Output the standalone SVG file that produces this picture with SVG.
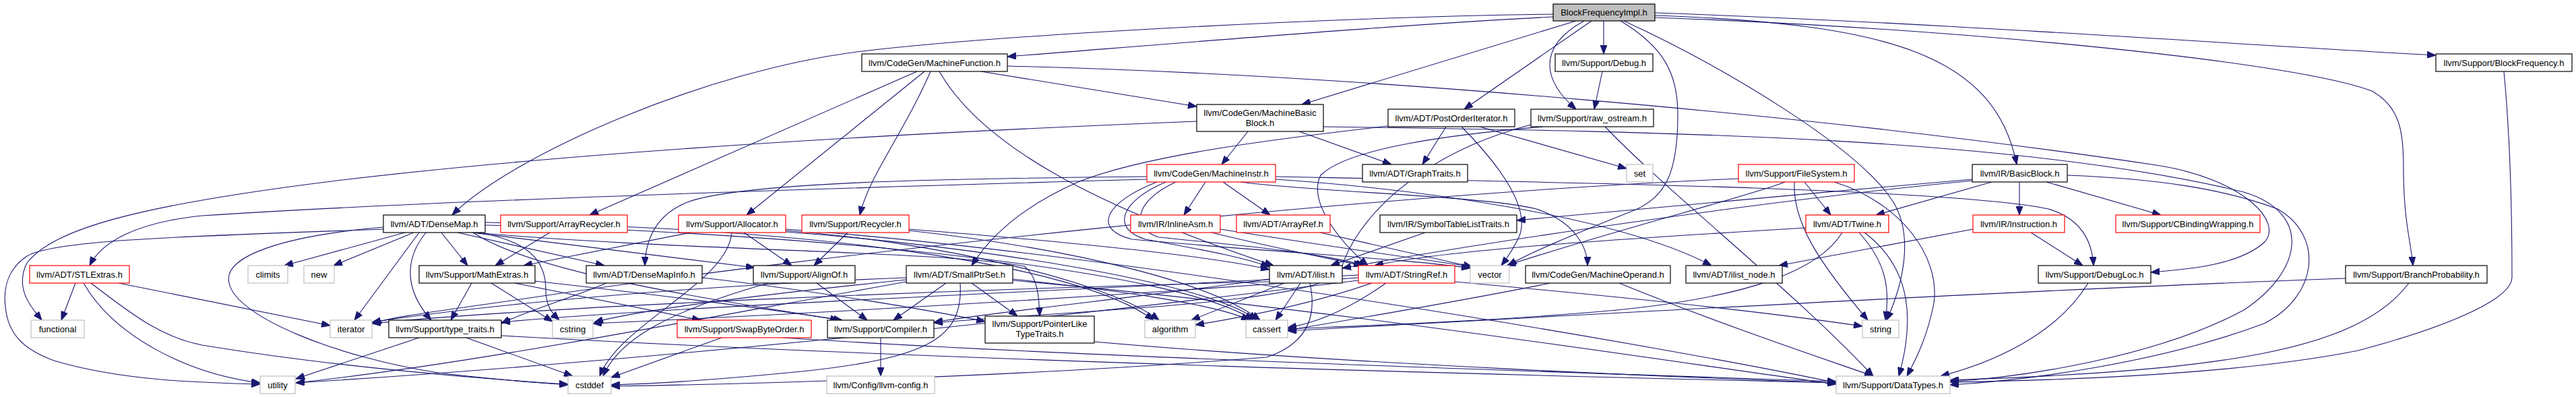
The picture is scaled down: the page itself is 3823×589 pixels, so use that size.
<svg xmlns="http://www.w3.org/2000/svg" width="3823" height="589" viewBox="0 0 3823 589">
<defs>
<marker id="a" markerUnits="userSpaceOnUse" markerWidth="13" markerHeight="10" refX="13" refY="5" orient="auto"><path d="M0,0 L13,5 L0,10 Z" fill="#191970" stroke="#191970" stroke-width="1"/></marker>
</defs>
<style>
.e path{fill:none;stroke:#191970;stroke-width:1.1;marker-end:url(#a)}
.n rect{fill:#fff;stroke:#000;stroke-width:1.2}
.r rect{fill:#fff;stroke:#ff0000;stroke-width:1.2}
.g rect{fill:#fff;stroke:#bfbfbf;stroke-width:1.2}
.root rect{fill:#bfbfbf;stroke:#000;stroke-width:1.2}
text{font-family:"Liberation Sans",Arial,Helvetica,sans-serif;font-size:13px;text-anchor:middle;fill:#000}
</style>
<rect width="3823" height="589" fill="#fff"/>
<g id="connectors" class="e">
<path d="M2305,21 C2000,25 1500,50 1280,76 C1050,103 760,230 671,319"/>
<path d="M2305,25 C2100,35 1800,60 1495,84"/>
<path d="M2339,31 L1932,155"/>
<path d="M2362,31 L2173,162"/>
<path d="M2380,31 L2380,80"/>
<path d="M2351,31 C2280,70 2290,120 2339,162"/>
<path d="M2456,23 C2800,35 2960,80 2993,244"/>
<path d="M2456,19 C2900,35 3300,65 3615,82"/>
<path d="M2456,26 C2900,42 3400,90 3520,135 C3565,160 3567,200 3567,260 C3568,330 3578,360 3581,394"/>
<path d="M2405,31 C2470,70 2490,110 2490,170 C2490,260 2470,290 2430,310 C2330,350 2270,375 2238,394"/>
<path d="M2410,31 C2560,100 2760,220 2810,300 C2840,350 2825,420 2800,475"/>
<path d="M1456,106 L1776,158"/>
<path d="M1495,98 C2000,110 2700,170 3200,245 C3330,265 3390,330 3360,360 C3320,395 3240,400 3192,404"/>
<path d="M1361,106 L875,319"/>
<path d="M1372,106 L1108,319"/>
<path d="M1381,106 C1340,200 1290,260 1276,319"/>
<path d="M1394,106 C1470,240 1700,330 1890,394"/>
<path d="M1852,195 L1813,244"/>
<path d="M1928,195 L2065,244"/>
<path d="M1776,180 C1400,195 900,220 500,268 C200,305 80,340 40,390 C20,430 50,460 62,475"/>
<path d="M1963,188 C2500,195 3000,205 3330,285 C3430,315 3420,400 3330,460 C3200,530 3000,560 2894,566"/>
<path d="M3068,260 C3200,265 3300,280 3380,310 C3450,350 3440,440 3360,480 C3200,540 3000,565 2894,571"/>
<path d="M2146,188 L2111,244"/>
<path d="M2196,188 L2414,250"/>
<path d="M2169,188 C2230,250 2270,310 2255,350 C2245,372 2235,385 2228,394"/>
<path d="M2060,187 C1900,205 1700,230 1600,270 C1520,305 1470,350 1442,394"/>
<path d="M2290,188 C2150,200 2000,220 1960,260 C1940,300 1990,360 2030,394"/>
<path d="M2272,185 C2100,230 2010,330 1990,400 C1970,450 1600,460 1386,479"/>
<path d="M2382,188 C2480,290 2660,430 2780,558"/>
<path d="M2378,106 L2366,162"/>
<path d="M1789,270 L1757,319"/>
<path d="M1815,270 L1885,319"/>
<path d="M1841,270 C1950,285 2200,290 2280,310 C2340,330 2356,370 2356,394"/>
<path d="M1893,262 C2300,270 2900,280 3040,310 C3090,325 3105,360 3107,394"/>
<path d="M1893,266 C2100,280 2400,320 2540,394"/>
<path d="M1717,270 C1640,300 1620,340 1680,355 C1900,375 2100,385 2182,398"/>
<path d="M1730,270 C1660,300 1650,340 1700,355 C1780,370 1840,380 1884,396"/>
<path d="M1745,270 C1680,300 1680,340 1720,352 C1850,365 1960,375 2025,394"/>
<path d="M1702,262 C1400,265 1100,270 1020,300 C970,320 958,360 957,394"/>
<path d="M1702,266 C1200,280 600,300 300,320 C200,330 150,360 133,394"/>
<path d="M2678,270 L2717,319"/>
<path d="M2663,270 C2660,330 2700,390 2772,475"/>
<path d="M2722,270 C2820,300 2880,380 2870,450 C2860,500 2845,530 2830,558"/>
<path d="M2649,270 C2600,290 2400,340 2236,394"/>
<path d="M2580,265 C2000,290 1200,380 800,440 C650,462 580,470 553,480"/>
<path d="M2997,270 L2997,319"/>
<path d="M3037,270 L3207,319"/>
<path d="M2956,270 L2784,319"/>
<path d="M2927,266 C2700,285 2450,310 2251,327"/>
<path d="M2927,268 C2600,300 2200,360 1992,398"/>
<path d="M2680,338 C2400,355 2150,370 2040,394"/>
<path d="M2759,345 C2800,390 2805,430 2798,475"/>
<path d="M2767,345 C2840,400 2840,480 2818,558"/>
<path d="M2734,345 C2700,400 2600,440 2400,460 C2200,478 2000,484 1911,488"/>
<path d="M2928,340 L2640,394"/>
<path d="M3014,345 L3091,394"/>
<path d="M2115,345 L1975,394"/>
<path d="M655,345 L694,394"/>
<path d="M679,345 L897,394"/>
<path d="M700,345 L1120,397"/>
<path d="M601,345 L422,394"/>
<path d="M614,345 L495,394"/>
<path d="M622,345 L526,475"/>
<path d="M632,345 C600,385 600,430 640,475"/>
<path d="M569,340 C300,350 80,355 40,380 C10,400 5,430 8,455 C12,500 40,520 80,535 C180,565 300,568 386,570"/>
<path d="M569,337 C420,350 330,380 340,420 C350,470 500,530 650,553 C750,565 800,568 843,570"/>
<path d="M710,345 C800,360 810,400 810,430 C810,455 820,465 830,475"/>
<path d="M705,345 C1000,372 1400,372 1520,395 C1540,410 1542,440 1543,469"/>
<path d="M720,330 C1200,338 1600,390 1712,475"/>
<path d="M720,334 C1200,345 1750,400 1860,475"/>
<path d="M702,345 C800,410 1100,450 1245,475"/>
<path d="M816,345 L735,394"/>
<path d="M1025,345 L777,394"/>
<path d="M1104,345 L1175,394"/>
<path d="M1086,345 C1080,420 920,480 890,558"/>
<path d="M1166,342 C1400,360 1650,420 1720,475"/>
<path d="M1166,344 C1450,365 1800,420 1865,475"/>
<path d="M1166,340 C1700,380 2500,520 2725,568"/>
<path d="M1258,345 L1208,394"/>
<path d="M1349,342 C1600,370 1800,420 1870,475"/>
<path d="M1349,340 C1600,360 1800,380 1884,400"/>
<path d="M1798,345 C1900,370 1980,385 2022,394"/>
<path d="M1811,340 C2000,370 2150,390 2185,396"/>
<path d="M1959,345 L2185,396"/>
<path d="M112,420 L91,475"/>
<path d="M176,420 L490,483"/>
<path d="M124,420 C170,500 280,555 386,568"/>
<path d="M135,420 C200,470 240,500 300,512 C500,545 700,560 843,571"/>
<path d="M700,420 L669,475"/>
<path d="M729,420 L820,477"/>
<path d="M764,420 L1040,475"/>
<path d="M794,417 C1000,440 1150,460 1250,475"/>
<path d="M900,420 C840,445 780,462 744,480"/>
<path d="M1042,412 C1200,430 1380,460 1462,477"/>
<path d="M1212,420 L1287,475"/>
<path d="M1140,420 C1000,460 920,500 895,558"/>
<path d="M1404,420 L1326,475"/>
<path d="M1442,420 L1510,469"/>
<path d="M1425,420 C1430,500 1380,530 1200,550 C1050,565 950,570 907,571"/>
<path d="M1345,412 C1000,425 700,455 552,478"/>
<path d="M1345,415 C1100,440 950,460 882,478"/>
<path d="M1345,418 C1000,480 700,540 439,568"/>
<path d="M1503,414 C1650,430 1800,450 1855,475"/>
<path d="M1503,416 C2000,460 2500,540 2725,570"/>
<path d="M1906,420 L1768,475"/>
<path d="M1930,420 L1893,475"/>
<path d="M1884,414 C1700,440 1500,460 1386,478"/>
<path d="M1944,420 C1955,470 1940,510 1880,530 C1500,560 1100,570 907,573"/>
<path d="M1884,418 C1400,430 800,455 552,480"/>
<path d="M2036,420 C1950,450 1850,470 1774,482"/>
<path d="M2057,420 C2000,460 1950,480 1911,486"/>
<path d="M2159,418 C2400,440 2600,460 2764,484"/>
<path d="M2016,408 C1500,435 1000,455 744,478"/>
<path d="M2016,412 C1500,450 1100,470 880,480"/>
<path d="M2016,416 C1500,480 900,540 439,568"/>
<path d="M2301,420 C2150,450 2000,475 1911,490"/>
<path d="M2403,420 C2550,480 2700,530 2780,558"/>
<path d="M3099,420 C3050,500 2950,540 2880,558"/>
<path d="M3481,413 C3000,430 2300,470 1911,491"/>
<path d="M3575,420 C3500,520 3300,550 2894,564"/>
<path d="M3716,106 C3725,200 3728,300 3728,410 C3730,440 3650,480 3500,520 C3300,560 3000,565 2894,567"/>
<path d="M622,501 L439,562"/>
<path d="M692,501 L850,558"/>
<path d="M744,498 C1500,540 2400,560 2725,568"/>
<path d="M1071,501 L907,560"/>
<path d="M1162,501 C1600,530 2400,555 2725,566"/>
<path d="M1307,501 L1307,558"/>
<path d="M1624,507 C2000,540 2500,560 2725,568"/>
</g>
<g id="node-BlockFrequencyImpl" class="root"><rect x="2305" y="6" width="151" height="25"/><text x="2380.5" y="22.5">BlockFrequencyImpl.h</text></g>
<g id="node-MachineFunction" class="n"><rect x="1279" y="80" width="216" height="26"/><text x="1387" y="97.5">llvm/CodeGen/MachineFunction.h</text></g>
<g id="node-Debug" class="n"><rect x="2308" y="80" width="145" height="26"/><text x="2380.5" y="97.5">llvm/Support/Debug.h</text></g>
<g id="node-BlockFrequency" class="n"><rect x="3615" y="80" width="202" height="26"/><text x="3716" y="97.5">llvm/Support/BlockFrequency.h</text></g>
<g id="node-MachineBasicBlock" class="n"><rect x="1776" y="155" width="188" height="40"/><text x="1870" y="171.5">llvm/CodeGen/MachineBasic</text><text x="1870" y="186.5">Block.h</text></g>
<g id="node-PostOrderIterator" class="n"><rect x="2060" y="162" width="188" height="26"/><text x="2154" y="179.5">llvm/ADT/PostOrderIterator.h</text></g>
<g id="node-raw_ostream" class="n"><rect x="2272" y="162" width="182" height="26"/><text x="2363" y="179.5">llvm/Support/raw_ostream.h</text></g>
<g id="node-MachineInstr" class="r"><rect x="1702" y="244" width="191" height="26"/><text x="1797.5" y="261.5">llvm/CodeGen/MachineInstr.h</text></g>
<g id="node-GraphTraits" class="n"><rect x="2022" y="244" width="156" height="26"/><text x="2100" y="261.5">llvm/ADT/GraphTraits.h</text></g>
<g id="node-set" class="g"><rect x="2414" y="244" width="39" height="26"/><text x="2433.5" y="261.5">set</text></g>
<g id="node-FileSystem" class="r"><rect x="2580" y="244" width="172" height="26"/><text x="2666" y="261.5">llvm/Support/FileSystem.h</text></g>
<g id="node-BasicBlock" class="n"><rect x="2927" y="244" width="141" height="26"/><text x="2997.5" y="261.5">llvm/IR/BasicBlock.h</text></g>
<g id="node-DenseMap" class="n"><rect x="569" y="319" width="151" height="26"/><text x="644.5" y="336.5">llvm/ADT/DenseMap.h</text></g>
<g id="node-ArrayRecycler" class="r"><rect x="743" y="319" width="188" height="26"/><text x="837" y="336.5">llvm/Support/ArrayRecycler.h</text></g>
<g id="node-Allocator" class="r"><rect x="1007" y="319" width="159" height="26"/><text x="1086.5" y="336.5">llvm/Support/Allocator.h</text></g>
<g id="node-Recycler" class="r"><rect x="1190" y="319" width="159" height="26"/><text x="1269.5" y="336.5">llvm/Support/Recycler.h</text></g>
<g id="node-InlineAsm" class="r"><rect x="1678" y="319" width="133" height="26"/><text x="1744.5" y="336.5">llvm/IR/InlineAsm.h</text></g>
<g id="node-ArrayRef" class="r"><rect x="1835" y="319" width="139" height="26"/><text x="1904.5" y="336.5">llvm/ADT/ArrayRef.h</text></g>
<g id="node-SymbolTableListTraits" class="n"><rect x="2048" y="319" width="203" height="26"/><text x="2149.5" y="336.5">llvm/IR/SymbolTableListTraits.h</text></g>
<g id="node-Twine" class="r"><rect x="2680" y="319" width="123" height="26"/><text x="2741.5" y="336.5">llvm/ADT/Twine.h</text></g>
<g id="node-Instruction" class="r"><rect x="2928" y="319" width="136" height="26"/><text x="2996" y="336.5">llvm/IR/Instruction.h</text></g>
<g id="node-CBindingWrapping" class="r"><rect x="3140" y="319" width="214" height="26"/><text x="3247" y="336.5">llvm/Support/CBindingWrapping.h</text></g>
<g id="node-STLExtras" class="r"><rect x="44" y="394" width="148" height="26"/><text x="118" y="411.5">llvm/ADT/STLExtras.h</text></g>
<g id="node-climits" class="g"><rect x="368" y="394" width="59" height="26"/><text x="397.5" y="411.5">climits</text></g>
<g id="node-new" class="g"><rect x="451" y="394" width="45" height="26"/><text x="473.5" y="411.5">new</text></g>
<g id="node-MathExtras" class="n"><rect x="622" y="394" width="172" height="26"/><text x="708" y="411.5">llvm/Support/MathExtras.h</text></g>
<g id="node-DenseMapInfo" class="n"><rect x="870" y="394" width="172" height="26"/><text x="956" y="411.5">llvm/ADT/DenseMapInfo.h</text></g>
<g id="node-AlignOf" class="n"><rect x="1118" y="394" width="151" height="26"/><text x="1193.5" y="411.5">llvm/Support/AlignOf.h</text></g>
<g id="node-SmallPtrSet" class="n"><rect x="1345" y="394" width="158" height="26"/><text x="1424" y="411.5">llvm/ADT/SmallPtrSet.h</text></g>
<g id="node-ilist" class="n"><rect x="1884" y="394" width="108" height="26"/><text x="1938" y="411.5">llvm/ADT/ilist.h</text></g>
<g id="node-StringRef" class="r"><rect x="2016" y="394" width="143" height="26"/><text x="2087.5" y="411.5">llvm/ADT/StringRef.h</text></g>
<g id="node-vector" class="g"><rect x="2182" y="394" width="58" height="26"/><text x="2211" y="411.5">vector</text></g>
<g id="node-MachineOperand" class="n"><rect x="2264" y="394" width="215" height="26"/><text x="2371.5" y="411.5">llvm/CodeGen/MachineOperand.h</text></g>
<g id="node-ilist_node" class="n"><rect x="2502" y="394" width="143" height="26"/><text x="2573.5" y="411.5">llvm/ADT/ilist_node.h</text></g>
<g id="node-DebugLoc" class="n"><rect x="3025" y="394" width="167" height="26"/><text x="3108.5" y="411.5">llvm/Support/DebugLoc.h</text></g>
<g id="node-BranchProbability" class="n"><rect x="3481" y="394" width="210" height="26"/><text x="3586" y="411.5">llvm/Support/BranchProbability.h</text></g>
<g id="node-functional" class="g"><rect x="46" y="475" width="79" height="26"/><text x="85.5" y="492.5">functional</text></g>
<g id="node-iterator" class="g"><rect x="490" y="475" width="62" height="26"/><text x="521" y="492.5">iterator</text></g>
<g id="node-type_traits" class="n"><rect x="577" y="475" width="167" height="26"/><text x="660.5" y="492.5">llvm/Support/type_traits.h</text></g>
<g id="node-cstring" class="g"><rect x="820" y="475" width="60" height="26"/><text x="850" y="492.5">cstring</text></g>
<g id="node-SwapByteOrder" class="r"><rect x="1005" y="475" width="199" height="26"/><text x="1104.5" y="492.5">llvm/Support/SwapByteOrder.h</text></g>
<g id="node-Compiler" class="n"><rect x="1228" y="475" width="158" height="26"/><text x="1307" y="492.5">llvm/Support/Compiler.h</text></g>
<g id="node-PointerLikeTypeTraits" class="n"><rect x="1462" y="469" width="162" height="40"/><text x="1543" y="485">llvm/Support/PointerLike</text><text x="1543" y="500">TypeTraits.h</text></g>
<g id="node-algorithm" class="g"><rect x="1699" y="475" width="75" height="26"/><text x="1736.5" y="492.5">algorithm</text></g>
<g id="node-cassert" class="g"><rect x="1849" y="475" width="62" height="26"/><text x="1880" y="492.5">cassert</text></g>
<g id="node-string" class="g"><rect x="2764" y="475" width="54" height="26"/><text x="2791" y="492.5">string</text></g>
<g id="node-utility" class="g"><rect x="386" y="558" width="52" height="26"/><text x="412" y="575.5">utility</text></g>
<g id="node-cstddef" class="g"><rect x="843" y="558" width="64" height="26"/><text x="875" y="575.5">cstddef</text></g>
<g id="node-llvm-config" class="g"><rect x="1227" y="558" width="160" height="26"/><text x="1307" y="575.5">llvm/Config/llvm-config.h</text></g>
<g id="node-DataTypes" class="g"><rect x="2725" y="558" width="169" height="26"/><text x="2809.5" y="575.5">llvm/Support/DataTypes.h</text></g>
</svg>
